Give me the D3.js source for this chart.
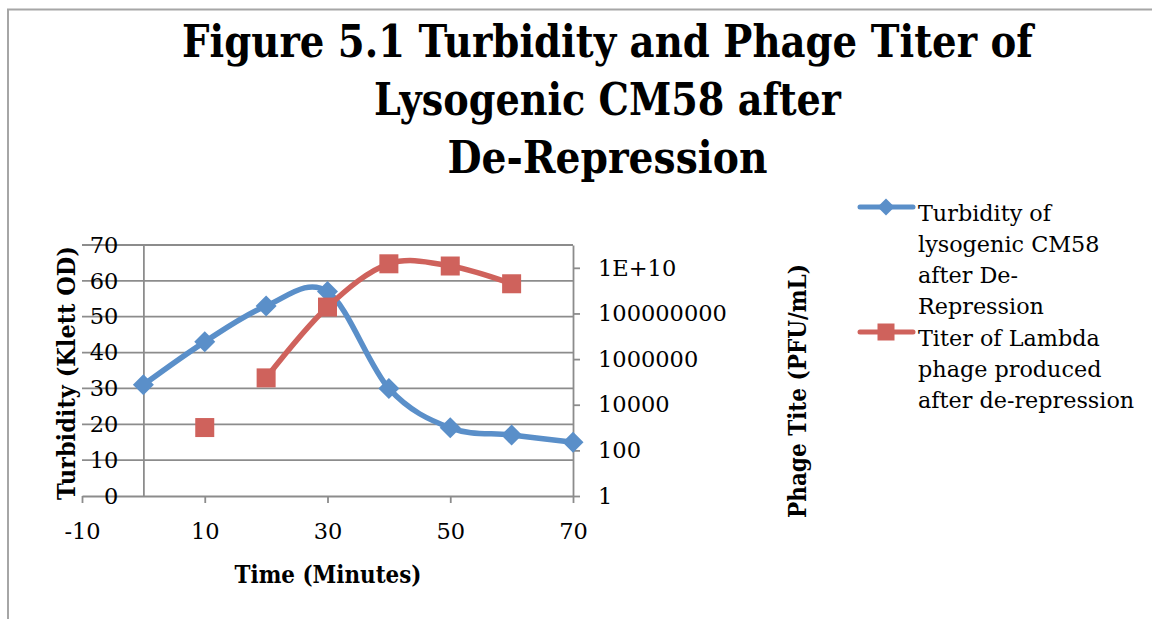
<!DOCTYPE html>
<html>
<head>
<meta charset="utf-8">
<script src="https://cdn.jsdelivr.net/npm/d3@7"></script>
<style>
  html, body { margin: 0; padding: 0; background: #fff; }
  svg { display: block; }
</style>
</head>
<body>
<svg id="chart" width="1152" height="619"></svg>
<script>
// ---------------- data ----------------
const titleLines = ["Figure 5.1 Turbidity and Phage Titer of", "Lysogenic CM58 after", "De-Repression"];
const times = [0, 10, 20, 30, 40, 50, 60, 70];
const turbidity = [31, 43, 53, 57, 30, 19, 17, 15];
const titerTimes = [10, 20, 30, 40, 50, 60];
const titer = [1000, 1.5e5, 1.9e8, 1.5e10, 1.2e10, 2e9];
const titerLineStart = 20; // the plotted line begins at this time point
const xTicks = [-10, 10, 30, 50, 70];
const yLeftTicks = [0, 10, 20, 30, 40, 50, 60, 70];
const yRightTicks = [1, 100, 1e4, 1e6, 1e8, 1e10];
const yRightTickLabels = ["1", "100", "10000", "1000000", "100000000", "1E+10"];
const xTitle = "Time (Minutes)";
const yLeftTitle = "Turbidity (Klett OD)";
const yRightTitle = "Phage Tite (PFU/mL)";
const legendTurbidity = ["Turbidity of", "lysogenic CM58", "after De-", "Repression"];
const legendTiter = ["Titer of Lambda", "phage produced", "after de-repression"];

// ---------------- styles ----------------
const BLUE = "#5a8fc9";
const RED = "#cf625c";
const GRID = "#8c8c8c";
const SERIF = "'DejaVu Serif', 'Liberation Serif', serif";

const svg = d3.select("#chart");

// chart-area border
svg.append("rect").attr("x", 8).attr("y", 9.5).attr("width", 1300).attr("height", 800)
  .attr("fill", "#fff").attr("stroke", "#a6a6a6").attr("stroke-width", 2);

// helper: place a text at (cx, cy) with rotation, horizontally scaled to a target width
function fittedText(str, cx, cy, rot, size, weight, w) {
  const g = svg.append("g");
  const t = g.append("text").attr("text-anchor", "middle")
    .attr("font-family", SERIF).attr("font-weight", weight).attr("font-size", size)
    .attr("fill", "#000").text(str);
  const len = t.node().getComputedTextLength();
  const sx = Math.min(1, w / len);
  g.attr("transform", `translate(${cx},${cy}) rotate(${rot}) scale(${sx},1)`);
  return t;
}

// ---------------- title ----------------
const titleWidths = [851, 467, 320];
const titleBase = [57, 115, 173];
titleLines.forEach((t, i) => fittedText(t, 607.5, titleBase[i], 0, 45, "bold", titleWidths[i]));

// ---------------- scales ----------------
const x = d3.scaleLinear().domain([-10, 70]).range([82, 573]);
const yL = d3.scaleLinear().domain([0, 70]).range([496, 245]);
const yR = d3.scaleLog().domain([1, 1e11]).range([496, 245]);

// gridlines
svg.append("g").selectAll("line").data(yLeftTicks.filter(d => d > 0)).join("line")
  .attr("x1", x(-10)).attr("x2", x(70))
  .attr("y1", d => yL(d)).attr("y2", d => yL(d))
  .attr("stroke", GRID).attr("stroke-width", 1.8);

// x axis
const xAxis = svg.append("g").attr("transform", `translate(0,${yL(0)})`)
  .call(d3.axisBottom(x).tickValues(xTicks).tickSize(7).tickPadding(20).tickSizeOuter(0).tickFormat(d3.format("d")));
xAxis.select(".domain").attr("stroke", GRID).attr("stroke-width", 1.8);
xAxis.selectAll(".tick line").attr("stroke", GRID).attr("stroke-width", 1.8);
xAxis.selectAll(".tick text").attr("font-family", SERIF).attr("font-size", 22.5).attr("fill", "#000")
  .text(d => d < 0 ? "-" + Math.abs(d) : d);

// left axis at x = 0
const yAxisL = svg.append("g").attr("transform", `translate(${x(0)},0)`)
  .call(d3.axisLeft(yL).tickValues(yLeftTicks).tickSize(0).tickPadding(25).tickSizeOuter(0));
yAxisL.select(".domain").attr("stroke", GRID).attr("stroke-width", 1.8);
yAxisL.selectAll(".tick text").attr("font-family", SERIF).attr("font-size", 22.5).attr("fill", "#000");

// right axis at x = 70
const yAxisR = svg.append("g").attr("transform", `translate(${x(70)},0)`)
  .call(d3.axisRight(yR).tickValues(yRightTicks).tickSize(7).tickPadding(18).tickSizeOuter(0)
    .tickFormat((d, i) => yRightTickLabels[i]));
yAxisR.select(".domain").attr("stroke", GRID).attr("stroke-width", 1.8);
yAxisR.selectAll(".tick line").attr("stroke", GRID).attr("stroke-width", 1.8);
yAxisR.selectAll(".tick text").attr("font-family", SERIF).attr("font-size", 22.5).attr("fill", "#000");

// axis titles
fittedText(xTitle, 328, 583, 0, 24, "bold", 187);
fittedText(yLeftTitle, 75, 373, -90, 24, "bold", 254);
fittedText(yRightTitle, 806, 391, -90, 24, "bold", 254);

// ---------------- series ----------------
const turbData = times.map((t, i) => ({ t, v: turbidity[i] }));
const titerData = titerTimes.map((t, i) => ({ t, v: titer[i] }));

const curve = d3.curveCardinal.tension(0);
svg.append("path").datum(turbData)
  .attr("d", d3.line().x(d => x(d.t)).y(d => yL(d.v)).curve(curve))
  .attr("fill", "none").attr("stroke", BLUE).attr("stroke-width", 5.5).attr("stroke-linecap", "round");

const diamond = s => `M0,${-s}L${s},0L0,${s}L${-s},0Z`;
svg.append("g").selectAll("path").data(turbData).join("path")
  .attr("transform", d => `translate(${x(d.t)},${yL(d.v)})`)
  .attr("d", diamond(10.5)).attr("fill", BLUE);

svg.append("path").datum(titerData.filter(d => d.t >= titerLineStart))
  .attr("d", d3.line().x(d => x(d.t)).y(d => yR(d.v)).curve(curve))
  .attr("fill", "none").attr("stroke", RED).attr("stroke-width", 5.5).attr("stroke-linecap", "round");

svg.append("g").selectAll("rect").data(titerData).join("rect")
  .attr("x", d => x(d.t) - 9.5).attr("y", d => yR(d.v) - 9.5)
  .attr("width", 19).attr("height", 19).attr("fill", RED);

// ---------------- legend ----------------
const legend = svg.append("g");
const legItems = [
  { lines: legendTurbidity, color: BLUE, shape: "diamond", y: 207 },
  { lines: legendTiter, color: RED, shape: "square", y: 332 }
];
legItems.forEach(item => {
  legend.append("line").attr("x1", 860).attr("x2", 913).attr("y1", item.y).attr("y2", item.y)
    .attr("stroke", item.color).attr("stroke-width", 5).attr("stroke-linecap", "round");
  if (item.shape === "diamond") {
    legend.append("path").attr("transform", `translate(886,${item.y})`).attr("d", diamond(8.5)).attr("fill", item.color);
  } else {
    legend.append("rect").attr("x", 886 - 8.5).attr("y", item.y - 8.5).attr("width", 17).attr("height", 17).attr("fill", item.color);
  }
  item.lines.forEach((l, j) => {
    legend.append("text").attr("x", 918).attr("y", item.y + 13.5 + j * 31.3)
      .attr("font-family", SERIF).attr("font-size", 22.3).attr("fill", "#000").text(l);
  });
});
</script>
</body>
</html>
